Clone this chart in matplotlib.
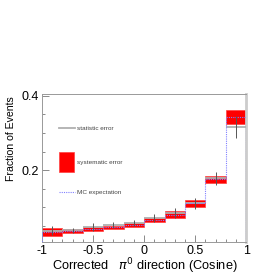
import matplotlib

matplotlib.use("Agg")
import matplotlib.pyplot as plt
import numpy as np
from matplotlib.ticker import MultipleLocator

plt.rcParams["font.family"] = ["Liberation Sans", "DejaVu Sans"]

bin_edges = [-1.0, -0.8, -0.6, -0.4, -0.2, 0.0, 0.2, 0.4, 0.6, 0.8, 1.0]
data = [0.037, 0.038, 0.047, 0.052, 0.058, 0.071, 0.084, 0.110, 0.178, 0.316]
stat_err = [0.011, 0.007, 0.010, 0.009, 0.008, 0.010, 0.014, 0.014, 0.017, 0.029]
syst_low = [0.023, 0.030, 0.036, 0.041, 0.047, 0.059, 0.070, 0.101, 0.165, 0.324]
syst_high = [0.044, 0.041, 0.047, 0.050, 0.056, 0.070, 0.089, 0.118, 0.185, 0.363]
mc = [0.034, 0.036, 0.041, 0.046, 0.052, 0.065, 0.080, 0.110, 0.176, 0.343]

edges = np.asarray(bin_edges)
left = edges[:-1]
width = np.diff(edges)
centers = left + width / 2

fig = plt.figure(figsize=(2.75, 2.75), dpi=100)
ax = fig.add_axes([0.153, 0.12, 0.742, 0.538])

ax.bar(left, np.subtract(syst_high, syst_low), bottom=syst_low, width=width, align="edge",
       color="#ff0000", edgecolor="#ff4040", linewidth=0.5, zorder=2)
ax.hlines(data, left, edges[1:], colors="#b0b0b0", linewidth=1.3, zorder=3)
ax.stairs(mc, edges, color="#8080ff", linestyle=(0, (1, 1)), linewidth=0.8, zorder=4)
ax.errorbar(centers, data, yerr=stat_err, fmt="none", ecolor="#555555", elinewidth=0.7, zorder=5)

# legend drawn by hand, ROOT style
ax.plot([0.085, 0.16], [0.77, 0.77], transform=ax.transAxes, color="#b0b0b0", lw=1.3)
ax.text(0.17, 0.77, "statistic error", transform=ax.transAxes, fontsize=4.6, va="center", color="#444444")
ax.add_patch(plt.Rectangle((0.083, 0.47), 0.073, 0.14, transform=ax.transAxes,
                           facecolor="#ff0000", edgecolor="#ff4040", lw=0.5))
ax.text(0.17, 0.535, "systematic error", transform=ax.transAxes, fontsize=4.6, va="center", color="#444444")
ax.plot([0.085, 0.16], [0.335, 0.335], transform=ax.transAxes, color="#8080ff", lw=0.8, linestyle=(0, (1, 1)))
ax.text(0.17, 0.335, "MC expectation", transform=ax.transAxes, fontsize=4.6, va="center", color="#444444")

ax.set_xlim(-1, 1)
ax.set_ylim(0.006, 0.405)
ax.xaxis.set_minor_locator(MultipleLocator(0.1))
ax.yaxis.set_minor_locator(MultipleLocator(0.05))
ax.set_xticks([-1, -0.5, 0, 0.5, 1])
ax.set_xticklabels(["-1", "-0.5", "0", "0.5", "1"])
ax.set_yticks([0.2, 0.4])
ax.set_yticklabels(["0.2", "0.4"])
ax.tick_params(which="both", direction="in", color="#777777", labelsize=9, pad=2)
ax.tick_params(which="major", length=5, width=0.6)
ax.tick_params(which="minor", length=2.5, width=0.6)

for side in ("left", "bottom", "top"):
    ax.spines[side].set_color("#999999")
    ax.spines[side].set_linewidth(0.7)
ax.spines["right"].set_color("#cccccc")
ax.spines["right"].set_linewidth(2)

ax.set_ylabel("Fraction of Events", fontsize=7.6, va="center")
ax.yaxis.set_label_coords(-0.152, 0.70)
ax.set_xlabel(r"Corrected   $\pi^0$ direction (Cosine)", fontsize=9.2, va="center")
ax.xaxis.set_label_coords(0.505, -0.162)

fig.savefig("out.png", dpi=100)
